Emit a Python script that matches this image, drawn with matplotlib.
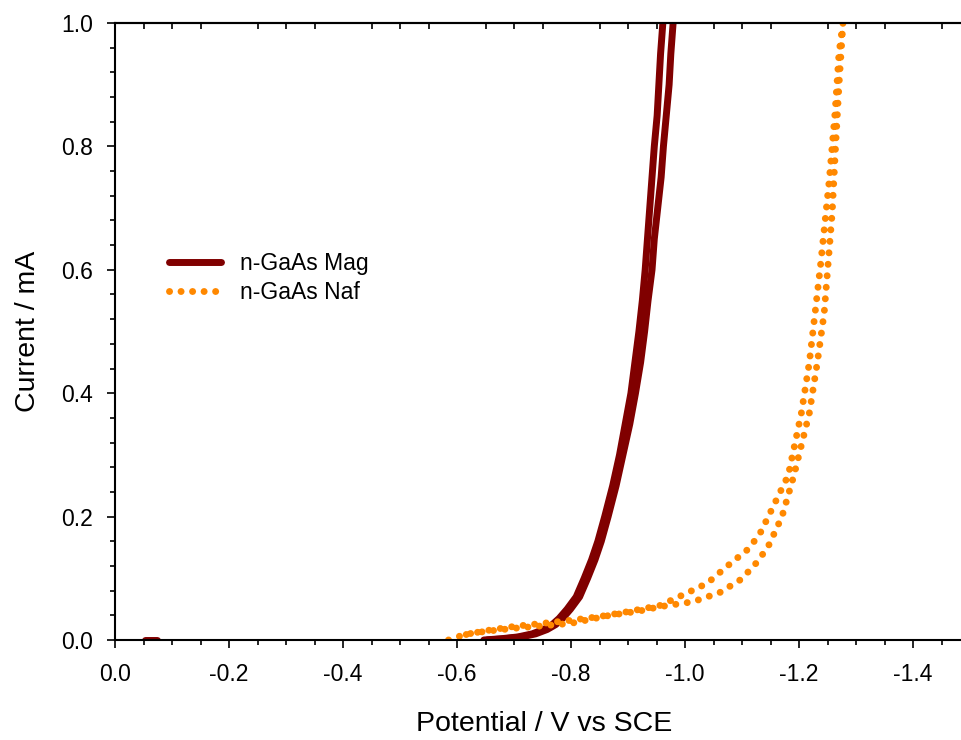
import numpy as np
import matplotlib
matplotlib.use('Agg')
import matplotlib.pyplot as plt
from matplotlib.ticker import MultipleLocator, FixedLocator, FormatStrFormatter

plt.rcParams['font.family'] = ['Liberation Sans', 'DejaVu Sans']
plt.rcParams['axes.unicode_minus'] = False

# n-GaAs Mag: two sweep branches + small blob near -0.06 V
mag_y = [0.0, 0.002, 0.005, 0.01, 0.017, 0.025, 0.035, 0.05, 0.07, 0.1,
         0.13, 0.16, 0.2, 0.25, 0.3, 0.35, 0.4, 0.45, 0.5, 0.55,
         0.6, 0.65, 0.7, 0.75, 0.8, 0.85, 0.9, 0.95, 1.0]
mag_x_a = [-0.647, -0.677, -0.707, -0.732, -0.752, -0.767, -0.779, -0.793, -0.809, -0.823,
           -0.836, -0.847, -0.859, -0.873, -0.885, -0.895, -0.905, -0.912, -0.919, -0.925,
           -0.930, -0.934, -0.938, -0.942, -0.946, -0.951, -0.954, -0.957, -0.961]
mag_x_b = [-0.653, -0.683, -0.713, -0.738, -0.758, -0.773, -0.785, -0.799, -0.815, -0.829,
           -0.842, -0.853, -0.865, -0.879, -0.891, -0.903, -0.913, -0.922, -0.929, -0.935,
           -0.942, -0.946, -0.952, -0.958, -0.962, -0.967, -0.972, -0.975, -0.979]
mag_x0 = [-0.052, -0.074]
mag_y0 = [0.0, 0.0]

# n-GaAs Naf: forward (lower) branch then return (upper) branch
naf_x_fwd = [-0.585, -0.60, -0.62, -0.65, -0.70, -0.75, -0.80, -0.868, -0.92, -0.956,
             -1.014, -1.061, -1.096, -1.12, -1.145, -1.17, -1.191, -1.218, -1.232,
             -1.244, -1.251, -1.258, -1.264, -1.27, -1.277]
naf_y_fwd = [0.0, 0.005, 0.01, 0.014, 0.019, 0.023, 0.027, 0.04, 0.047, 0.054,
             0.062, 0.077, 0.097, 0.119, 0.15, 0.2, 0.267, 0.368, 0.45,
             0.53, 0.611, 0.692, 0.80, 0.9, 1.0]
naf_x_rev = [-1.277, -1.27, -1.263, -1.253, -1.247, -1.238, -1.228, -1.218, -1.204,
             -1.181, -1.146, -1.13, -1.109, -1.073, -1.039, -1.003, -0.956, -0.90,
             -0.85, -0.80, -0.75, -0.70, -0.65, -0.60]
naf_y_rev = [1.0, 0.951, 0.854, 0.746, 0.692, 0.611, 0.53, 0.45, 0.368,
             0.267, 0.2, 0.17, 0.146, 0.119, 0.092, 0.076, 0.056, 0.046,
             0.038, 0.032, 0.027, 0.022, 0.015, 0.006]

mag_color = '#800000'
naf_color = '#ff8800'

fig = plt.figure(figsize=(9.61, 7.4), dpi=100)
ax = fig.add_axes([115/961, 1-640/740, 1-115/961, (640-23)/740])

mag_kw = dict(color=mag_color, lw=5, solid_capstyle='round', solid_joinstyle='round')
ax.plot(mag_x_a, mag_y, label='n-GaAs Mag', **mag_kw)
ax.plot(mag_x_b, mag_y, **mag_kw)
ax.plot(mag_x0, mag_y0, **mag_kw)

naf_x = naf_x_fwd + naf_x_rev
naf_y = naf_y_fwd + naf_y_rev
ax.plot(naf_x, naf_y, color=naf_color, lw=5, linestyle=(0, (0.01, 1.65)),
        dash_capstyle='round', label='n-GaAs Naf')

ax.set_xlim(0, -1.484)
ax.set_ylim(0, 1.0)
ax.xaxis.set_major_locator(MultipleLocator(0.2))
ax.xaxis.set_minor_locator(MultipleLocator(0.05))
ax.yaxis.set_major_locator(MultipleLocator(0.2))
ax.yaxis.set_minor_locator(MultipleLocator(0.04))
ax.xaxis.set_major_formatter(FormatStrFormatter('%.1f'))
ax.yaxis.set_major_formatter(FormatStrFormatter('%.1f'))

ax.spines['right'].set_visible(False)
for s in ['left', 'bottom', 'top']:
    ax.spines[s].set_linewidth(1.5)
ax.tick_params(which='major', direction='out', length=6, width=1.2, labelsize=16.5)
ax.tick_params(axis='x', which='major', pad=10.5)
ax.tick_params(axis='y', which='major', pad=10)
ax.tick_params(which='minor', direction='out', length=3.5, width=1.2)
ax.tick_params(top=False, right=False)

# top axis: inward ticks at minor positions only
ax2 = ax.twiny()
ax2.set_xlim(ax.get_xlim())
top_ticks = [-0.05 * i for i in range(1, 30) if i % 4 != 0]
ax2.xaxis.set_major_locator(FixedLocator(top_ticks))
ax2.tick_params(axis='x', direction='in', length=4.5, width=1.2, labeltop=False)
for s in ['left', 'right', 'bottom']:
    ax2.spines[s].set_visible(False)
ax2.spines['top'].set_linewidth(1.5)

ax.set_xlabel('Potential / V vs SCE', fontsize=20.5)
ax.set_ylabel('Current / mA', fontsize=20.5)
ax.xaxis.set_label_coords(0.507, -0.1146)
ax.yaxis.set_label_coords(-0.087, 0.5)

ax.legend(loc='upper left', bbox_to_anchor=(0.040, 0.663), frameon=False, fontsize=16.5,
          handlelength=2.27, handletextpad=0.79, labelspacing=0.28)

fig.savefig('out.png', dpi=100)
